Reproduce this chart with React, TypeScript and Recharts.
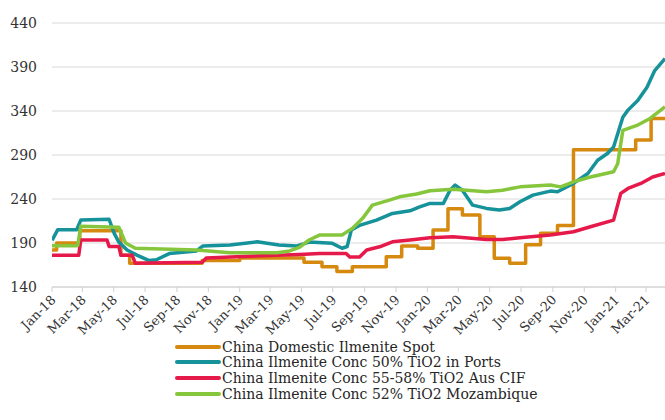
import React from 'react';
import { LineChart, Line, XAxis, YAxis, CartesianGrid } from 'recharts';

const tickDates = [
  '2018-01-01', '2018-03-01', '2018-05-01', '2018-07-01', '2018-09-01', '2018-11-01',
  '2019-01-01', '2019-03-01', '2019-05-01', '2019-07-01', '2019-09-01', '2019-11-01',
  '2020-01-01', '2020-03-01', '2020-05-01', '2020-07-01', '2020-09-01', '2020-11-01',
  '2021-01-01', '2021-03-01',
];
const tickLabels = [
  'Jan-18', 'Mar-18', 'May-18', 'Jul-18', 'Sep-18', 'Nov-18',
  'Jan-19', 'Mar-19', 'May-19', 'Jul-19', 'Sep-19', 'Nov-19',
  'Jan-20', 'Mar-20', 'May-20', 'Jul-20', 'Sep-20', 'Nov-20',
  'Jan-21', 'Mar-21',
];
const yTicks = [140, 190, 240, 290, 340, 390, 440];
const xStart = '2018-01-01';
const xEnd = '2021-04-07';

const seriesNames = [
  'China Domestic Ilmenite Spot',
  'China Ilmenite Conc 50% TiO2 in Ports',
  'China Ilmenite Conc 55-58% TiO2 Aus CIF',
  'China Ilmenite Conc 52% TiO2 Mozambique',
];
const seriesColors = ['#D6890F', '#16929A', '#E6194B', '#86C63C'];
const seriesCurves = ['stepAfter', 'linear', 'linear', 'linear'];

const spotDates = [
  '2018-01-01', '2018-01-10', '2018-02-24', '2018-05-15', '2018-06-01', '2018-10-20',
  '2019-01-01', '2019-05-06', '2019-06-10', '2019-07-09', '2019-08-08', '2019-10-13',
  '2019-11-12', '2019-12-13', '2020-01-12', '2020-02-10', '2020-03-09', '2020-04-12',
  '2020-05-10', '2020-06-09', '2020-07-10', '2020-08-08', '2020-09-10', '2020-10-11',
  '2021-02-09', '2021-03-11', '2021-04-07',
];
const spotValues = [
  182, 190, 204, 176, 167, 170,
  173, 168, 163, 157.5, 163, 174.4,
  186.5, 184, 204.7, 229, 221.7, 197,
  172.6, 167, 188, 201, 210, 296,
  307, 331.5, 331.5,
];

const portsDates = [
  '2018-01-01', '2018-01-12', '2018-02-18', '2018-02-26', '2018-04-22', '2018-05-02',
  '2018-05-11', '2018-05-27', '2018-06-16', '2018-07-09', '2018-07-23', '2018-08-17',
  '2018-10-09', '2018-10-21', '2018-12-13', '2019-02-04', '2019-03-18', '2019-04-21',
  '2019-05-16', '2019-06-30', '2019-07-19', '2019-07-29', '2019-08-06', '2019-08-22',
  '2019-09-24', '2019-10-25', '2019-11-28', '2019-12-17', '2020-01-06', '2020-02-01',
  '2020-02-14', '2020-02-24', '2020-03-09', '2020-03-29', '2020-04-25', '2020-05-20',
  '2020-06-09', '2020-06-29', '2020-07-24', '2020-08-27', '2020-09-10', '2020-10-11',
  '2020-11-08', '2020-11-27', '2020-12-16', '2020-12-28', '2021-01-15', '2021-01-25',
  '2021-02-13', '2021-03-03', '2021-03-18', '2021-04-07',
];
const portsValues = [
  193, 205, 205, 216, 217, 201,
  191, 182, 176, 170, 171, 178,
  181, 186.5, 187.7, 191.4, 187.7, 186.5,
  191, 189.6, 184, 186, 204.7, 210,
  216, 223.6, 226.6, 231, 235, 235,
  250, 255.8, 250, 233, 229.3, 227.4,
  229.3, 236.8, 244.4, 249, 248.2, 257.7,
  269, 284, 291.7, 299, 333, 341,
  352, 367, 386, 399.6,
];

const ausDates = [
  '2018-01-01', '2018-02-22', '2018-02-26', '2018-04-18', '2018-04-22', '2018-05-11',
  '2018-05-15', '2018-06-06', '2018-06-12', '2018-10-20', '2018-10-28', '2018-12-26',
  '2019-03-29', '2019-04-27', '2019-06-05', '2019-07-27', '2019-08-03', '2019-08-22',
  '2019-09-05', '2019-09-30', '2019-10-25', '2019-11-28', '2020-01-06', '2020-02-20',
  '2020-04-25', '2020-05-26', '2020-06-29', '2020-08-27', '2020-10-11', '2020-11-13',
  '2020-12-28', '2021-01-11', '2021-01-25', '2021-02-19', '2021-03-14', '2021-04-07',
];
const ausValues = [
  176, 176, 193.4, 193.4, 186, 186,
  176, 176, 167, 168, 173, 174.4,
  176.3, 177, 178, 178, 174, 174,
  182, 185.7, 191.4, 193.4, 196, 197,
  194, 194, 196, 199, 202.8, 208.5,
  216, 246.4, 252, 257.7, 265, 269,
];

const mozDates = [
  '2018-01-01', '2018-02-20', '2018-02-26', '2018-05-11', '2018-05-24', '2018-06-12',
  '2018-10-09', '2018-12-13', '2019-03-15', '2019-04-08', '2019-04-27', '2019-05-16',
  '2019-06-05', '2019-07-19', '2019-08-08', '2019-08-28', '2019-09-16', '2019-10-19',
  '2019-11-08', '2019-12-11', '2020-01-06', '2020-02-20', '2020-04-25', '2020-05-26',
  '2020-06-29', '2020-08-27', '2020-09-16', '2020-10-11', '2020-11-13', '2020-12-28',
  '2021-01-05', '2021-01-15', '2021-02-13', '2021-03-09', '2021-04-07',
];
const mozValues = [
  187, 187, 209, 208, 190, 184,
  182, 179, 179, 181, 185, 193.4,
  199, 199, 206.6, 218, 233, 238.8,
  242.5, 245.6, 249.3, 251, 248.2, 250,
  253.8, 255.8, 253.8, 259.5, 265, 271,
  280, 318, 324, 331.5, 344.7,
];

const toTime = (s: string) => Date.parse(s + 'T00:00:00Z');
const build = (dates: string[], values: number[]) =>
  dates.map((d, i) => ({ t: toTime(d), v: values[i] }));

const seriesData = [
  build(spotDates, spotValues),
  build(portsDates, portsValues),
  build(ausDates, ausValues),
  build(mozDates, mozValues),
];

const tickTimes = tickDates.map(toTime);
const fmtTick = (t: number) => {
  const i = tickTimes.indexOf(t);
  return i >= 0 ? tickLabels[i] : '';
};

const FONT = '"DejaVu Serif", serif';

export default function App() {
  return (
    <div style={{ position: 'absolute', left: 0, top: 0, width: 665, height: 420, background: '#fff' }}>
      <LineChart width={665} height={420} margin={{ top: 23, right: 0, bottom: 0, left: 0 }}>
        <CartesianGrid horizontal vertical={false} stroke="#d9d9d9" strokeWidth={1} />
        <XAxis
          dataKey="t"
          type="number"
          domain={[toTime(xStart), toTime(xEnd)]}
          allowDataOverflow
          ticks={tickTimes}
          tickFormatter={fmtTick}
          interval={0}
          height={133}
          stroke="#d0d0d0"
          tickSize={5}
          tickMargin={2}
          angle={-45}
          textAnchor="end"
          dx={-2}
          tick={{ fill: '#333', fontFamily: FONT, fontSize: 13 }}
        />
        <YAxis
          type="number"
          domain={[140, 440]}
          ticks={yTicks}
          width={52}
          axisLine={false}
          tickLine={false}
          tickSize={0}
          tickMargin={15}
          tick={{ fill: '#333', fontFamily: FONT, fontSize: 14 }}
        />
        {seriesData.map((d, i) => (
          <Line
            key={seriesNames[i]}
            data={d}
            dataKey="v"
            name={seriesNames[i]}
            type={seriesCurves[i] as any}
            stroke={seriesColors[i]}
            strokeWidth={3.5}
            dot={false}
            activeDot={false}
            strokeLinejoin="round"
            isAnimationActive={false}
          />
        ))}
      </LineChart>
      <div style={{ position: 'absolute', left: 175, top: 339, fontFamily: FONT, fontSize: 14, color: '#262626' }}>
        {seriesNames.map((name, i) => (
          <div key={name} style={{ display: 'flex', alignItems: 'center', height: 15.6, whiteSpace: 'nowrap' }}>
            <div style={{ width: 46, height: 4, borderRadius: 2, background: seriesColors[i], marginRight: 1 }} />
            <span>{name}</span>
          </div>
        ))}
      </div>
    </div>
  );
}
